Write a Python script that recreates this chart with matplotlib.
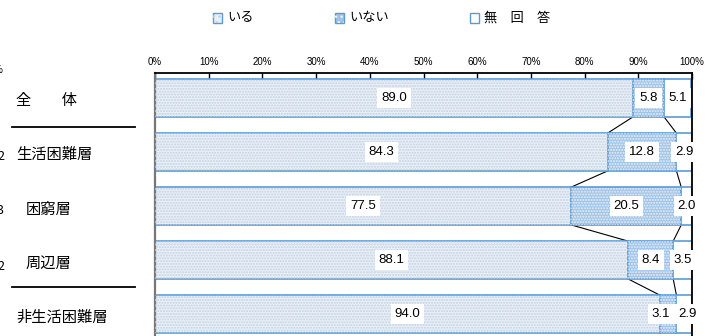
import matplotlib
matplotlib.use("Agg")
import matplotlib.pyplot as plt
from matplotlib.patches import Rectangle
import numpy as np

plt.rcParams['font.family'] = ['Noto Sans CJK JP', 'DejaVu Sans']
plt.rcParams['hatch.linewidth'] = 1.0

categories = ["全　　体", "生活困難層", "困窮層", "周辺層", "非生活困難層"]
indent = [False, False, True, True, False]
iru = [89.0, 84.3, 77.5, 88.1, 94.0]
inai = [5.8, 12.8, 20.5, 8.4, 3.1]
muka = [5.1, 2.9, 2.0, 3.5, 2.9]
series_names = ["いる", "いない", "無　回　答"]
partial_left = ["2", "3", "2"]
ticks = [0, 10, 20, 30, 40, 50, 60, 70, 80, 90, 100]

W, H = 719, 336
fig = plt.figure(figsize=(W / 100, H / 100), dpi=100)
ax_left, ax_right = 155 / W, 692 / W
ax_top, ax_bot = 73 / H, 336 / H
ax = fig.add_axes([ax_left, 1 - ax_bot, ax_right - ax_left, ax_bot - ax_top])

face = ['#eaf0f7', '#9fc3e7', 'white']
hcol = ['#c3d1e2', '#e6f0fa', 'white']
hatch = ['......', '......', None]
edge = '#5b9bd5'
bh = 0.70

# label x-offsets (in % units) for narrow segments: (row, series) -> shift
label_shift = {(4, 1): -1.4, (4, 2): 0.6}

y = np.arange(len(categories))
data = [iru, inai, muka]
left = np.zeros(len(categories))
for k, vals in enumerate(data):
    vals = np.array(vals)
    ax.barh(y, vals, left=left, height=bh, color=face[k], edgecolor=edge, linewidth=1.2, zorder=2)
    if hatch[k]:
        ax.barh(y, vals, left=left, height=bh, facecolor='none', edgecolor=hcol[k],
                hatch=hatch[k], linewidth=0, zorder=3)
    for i, v in enumerate(vals):
        xs = left[i] + v / 2 + label_shift.get((i, k), 0)
        ax.text(xs, y[i], f"{v:.1f}", ha='center', va='center', fontsize=9.5,
                family=['Liberation Sans', 'DejaVu Sans'], zorder=5,
                bbox=dict(facecolor='white', edgecolor='none', pad=2.8))
    left = left + vals

# connector lines between consecutive bars
c1 = np.array(iru)
c2 = np.array(iru) + np.array(inai)
for cum in (c1, c2):
    for i in range(len(categories) - 1):
        ax.plot([cum[i], cum[i + 1]], [y[i] + bh / 2, y[i + 1] - bh / 2], color='black',
                lw=0.8, zorder=1)

ax.set_xlim(0, 100)
ax.set_ylim(4.407, -0.463)
ax.xaxis.tick_top()
ax.set_xticks(ticks)
ax.set_xticklabels([f"{t}%" for t in ticks], fontsize=7,
                   family=['Liberation Sans Narrow', 'Liberation Sans', 'DejaVu Sans'])
ax.tick_params(axis='x', direction='in', length=4, width=1, pad=4, color='black')
ax.set_yticks([])
ax.spines['bottom'].set_visible(False)
ax.spines['top'].set_linewidth(1.3)
ax.spines['right'].set_linewidth(1.3)
ax.spines['left'].set_color('#777777')
ax.spines['left'].set_linewidth(1.6)

# left labels
row_px = [100, 154, 209, 263, 317]
for i, (c, ind) in enumerate(zip(categories, indent)):
    x0 = 26 if ind else 16
    fig.text(x0 / W, 1 - row_px[i] / H, c, fontsize=11, ha='left', va='center')
for yy in (127, 287):
    fig.add_artist(plt.Line2D([12 / W, 135 / W], [1 - yy / H, 1 - yy / H], color='black', lw=1.3))
# cut-off labels at the left border
fig.text(3 / W, 1 - 70 / H, "%", fontsize=7, ha='right', va='center')
for t, yy in zip(partial_left, [157, 211, 266]):
    fig.text(4 / W, 1 - yy / H, t, fontsize=9, ha='right', va='center')

# legend drawn manually
leg_x = [213, 335, 470]
leg_y = 18
for k, (lx, name) in enumerate(zip(leg_x, series_names)):
    fig.add_artist(Rectangle((lx / W, 1 - (leg_y + 5) / H), 9 / W, 10 / H,
                             facecolor=face[k], edgecolor=edge, lw=1.0,
                             transform=fig.transFigure))
    if hatch[k]:
        fig.add_artist(Rectangle((lx / W, 1 - (leg_y + 5) / H), 9 / W, 10 / H,
                                 facecolor='none', edgecolor=hcol[k], hatch='...', lw=0,
                                 transform=fig.transFigure))
    fig.text((lx + 14) / W, 1 - leg_y / H, name, fontsize=9.5, ha='left', va='center')

fig.savefig("out.png", dpi=100)
